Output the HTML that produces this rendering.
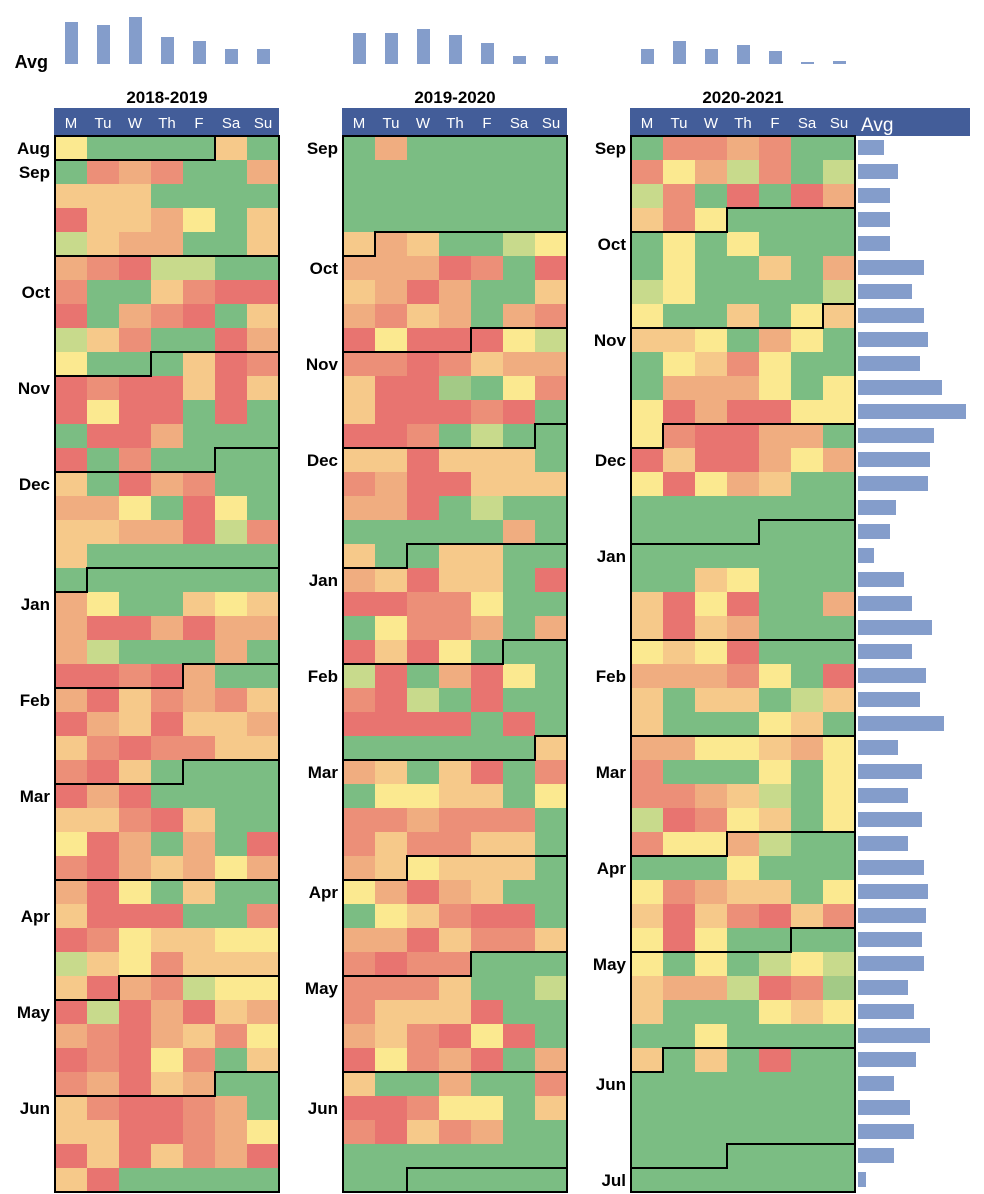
<!DOCTYPE html>
<html><head><meta charset="utf-8"><style>
html,body{margin:0;padding:0;background:#fff;}
svg{display:block;font-family:"Liberation Sans",Arial,sans-serif;}
</style></head><body>
<svg id="chart" width="984" height="1194" viewBox="0 0 984 1194" xmlns="http://www.w3.org/2000/svg"></svg>
<script>
const seasons = ["2018-2019","2019-2020","2020-2021"];
const startDates = ["2018-08-27","2019-09-02","2020-09-07"];
const dayLabels = ["M","Tu","W","Th","F","Sa","Su"];
const monthNames = ["Jan","Feb","Mar","Apr","May","Jun","Jul","Aug","Sep","Oct","Nov","Dec"];
const dayAvg1 = [42,39,47,27,23,15,15];
const dayAvg2 = [31,31,35,29,21,8,8];
const dayAvg3 = [15,23,15,19,13,2,3];
const weekAvg = [26,40,32,32,32,66,54,66,70,62,84,108,76,72,70,38,32,16,46,54,74,54,68,62,86,40,64,50,64,50,66,70,68,64,66,50,56,72,58,36,52,56,36,8];
const grid1 = ["YGGGGLG","GOAOGGA","LLLGGGG","RLLAYGL","VLAAGGL","AORVVGG","OGGLORR","RGAORGL","VLOGGRA","YGGGLRO","RORRLRL","RYRRGRG","GRRAGGG","RGOGGGG","LGRAOGG","AAYGRYG","LLAARVO","LGGGGGG","GGGGGGG","AYGGLYL","ARRARAA","AVGGGAG",
"RRORAGG","ARLOAOL","RALRLLA","LOROOLL","ORLGGGG","RARGGGG","LLORLGG","YRAGAGR","ORQLAYA","ARYGLGG","LRRRGGO","ROYLLYY","VLYOLLL","LRAOVYY","RVRARLA","AORALOY","RORYOGL","OARLAGG","LORROAG","LLRROAY","RLRLOAR","LRGGGGG"];
const grid2 = ["GAGGGGG","GGGGGGG","GGGGGGG","GGGGGGG","LALGGVY","AAAROGR","LARAGGL","AOLAGAO","RYRRRYV","OOROLAA","LRRMGYO","LRRRORG","RROGVGG","LLRLLLG","OARRLLL","AARGVGG","GGGGGAG","LGGLLGG","ALRLLGR","RROOYGG","GYOOAGA","RLRYGGG",
"VRGARYG","ORVGRGG","RRRRGRG","GGGGGGL","ALGLRGO","GYYLLGY","OOAOOOG","OLOOLLG","ALYLLLG","YARALGG","GYLORRG","AARLOOL","OROOGGG","OOOLGGV","OLLLRGG","ALORYRG","RYOARGA","LGGAGGO","RROYYGL","ORLOAGG","GGGGGGG","GGGGGGG"];
const grid3 = ["GOOAOGG","OYAVOGV","VOGRGRA","LOYGGGG","GYGYGGG","GYGGLGA","VYGGGGV","YGGLGYL","LLYGAYG","GYLOYGG","GAAAYGY","YRARRYY","YORRAAG","RLRRAYA","YRYALGG","GGGGGGG","GGGGGGG","GGGGGGG","GGLYGGG","LRYRGGA","LRLAGGG","YLYRGGG",
"AAAOYGR","LGLLGVL","LGGGYLG","AAYYLAY","OGGGYGY","OOALVGY","VROYLGY","OYYAVGG","GGGYGGG","YOALLGY","LRLORLO","YRYGGGG","YGYGVYV","LAAVROM","LGGGYLY","GGYGGGG","LGLGRGG","GGGGGGG","GGGGGGG","GGGGGGG","GGGGGGG","GGGGGGG"];
const colors = {G:"#7bbd83",V:"#c8da8c",M:"#a3ca86",Y:"#fbe990",L:"#f6c98a",A:"#f0ad80",Q:"#f0ad80",O:"#ec8f78",R:"#e87470"};

const svg = document.getElementById('chart');
const NS = "http://www.w3.org/2000/svg";
const panelX = [55,343,631], top0 = 136, cw = 32, rh = 24, nRows = 44;
function colX(p,c){return panelX[p]+c*cw;}
function rowY(r){return top0+r*rh;}
function mk(tag,attrs,parent){const e=document.createElementNS(NS,tag);for(const k in attrs)e.setAttribute(k,attrs[k]);(parent||svg).appendChild(e);return e;}
function txt(x,y,s,size,anchor,fill,weight){const t=mk('text',{x:x,y:y,'font-size':size,'text-anchor':anchor,fill:fill,'font-weight':weight});t.textContent=s;return t;}

const lblAvg = txt(48,68,"Avg",18,"end","#000","bold");



const grids=[grid1,grid2,grid3], dayAvgs=[dayAvg1,dayAvg2,dayAvg3];
for(let p=0;p<3;p++){
  // top avg bars
  const g=mk('g',{});
  
  
  dayAvgs[p].forEach((v,c)=>{
    const b=mk('rect',{x:colX(p,c)+10,y:64-v,width:13,height:v,fill:"#849dcb"},g);
    
    
  });
  const t=txt(panelX[p]+112,103,seasons[p],17,"middle","#000","bold");
  
  
  const hw = p===2 ? 339 : 224;
  const h=mk('rect',{x:panelX[p]-1,y:108,width:hw+1,height:28,fill:"#435d99"});
  
  
  dayLabels.forEach((d,c)=>{
    const dt=txt(colX(p,c)+16,128,d,15,"middle","#fff","normal");
    
    
  });
  // cells
  const cg=mk('g',{});
  
  
  grids[p].forEach((row,r)=>{
    for(let c=0;c<7;c++){
      const cell=mk('rect',{x:colX(p,c),y:rowY(r),width:cw+0.5,height:rh+0.5,fill:colors[row[c]]||colors.G},cg);
      
      
    }
  });
  // month boundaries and labels
  const start=new Date(startDates[p]+"T00:00:00Z");
  let firstLbl=txt(panelX[p]-5,154,monthNames[start.getUTCMonth()],17,"end","#000","bold");
  
  
  let y=start.getUTCFullYear(), m=start.getUTCMonth()+1;
  for(let k=0;k<12;k++){
    if(m>11){m=0;y++;}
    const d=new Date(Date.UTC(y,m,1));
    const days=Math.round((d-start)/86400000);
    const r=Math.floor(days/7), c=days%7;
    if(r<nRows){
      const x0=panelX[p], x1=panelX[p]+224, xc=colX(p,c), yt=rowY(r), yb=rowY(r+1);
      const dstr = c===0 ? `M${x0},${yt}H${x1}` : `M${x1},${yt}H${xc}V${yb}H${x0}`;
      const pl=mk('path',{d:dstr,fill:"none",stroke:"#000","stroke-width":2});
      
      
      if(r+1<nRows){
        const ml=txt(panelX[p]-5,rowY(r+1)+18,monthNames[m],17,"end","#000","bold");
        
        
      }
    }
    m++;
  }
  const bd=mk('rect',{x:panelX[p],y:top0,width:224,height:nRows*rh,fill:"none",stroke:"#000","stroke-width":2});
  
  
}
const at=txt(861,131,"Avg",19,"start","#fff","normal");


const wg=mk('g',{});


weekAvg.forEach((v,r)=>{
  const b=mk('rect',{x:858,y:rowY(r)+4,width:v,height:15,fill:"#849dcb"},wg);
  
  
});
</script>
</body></html>
